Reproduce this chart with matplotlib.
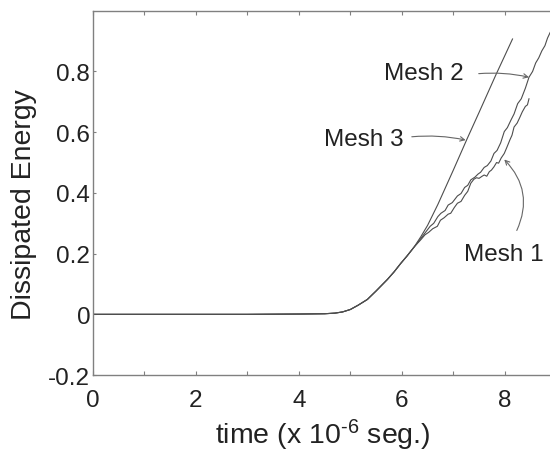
import matplotlib
matplotlib.use('Agg')
import matplotlib.pyplot as plt

plt.rcParams['font.family'] = ['Liberation Sans', 'DejaVu Sans']
plt.rcParams['axes.unicode_minus'] = False
plt.rcParams['mathtext.fontset'] = 'custom'
plt.rcParams['mathtext.rm'] = 'Liberation Sans'
plt.rcParams['mathtext.it'] = 'Liberation Sans:italic'

# common part: all meshes flat, then rise together up to ~6.25
base_t = [0, 3.0, 4.0, 4.5, 4.7, 4.85, 5.0, 5.15, 5.33, 5.5, 5.72, 5.85, 5.98, 6.1, 6.24]
base_e = [0, 0, 0.001, 0.002, 0.004, 0.008, 0.016, 0.03, 0.049, 0.077, 0.115, 0.14, 0.168, 0.192, 0.222]

# Mesh 1 tail (jagged, lowest)
m1_t = [6.37, 6.45, 6.52, 6.60, 6.69, 6.75, 6.82, 6.90, 6.95, 7.02, 7.08, 7.15, 7.22, 7.28, 7.34, 7.40,
        7.45, 7.50, 7.56, 7.60, 7.65, 7.70, 7.74, 7.79, 7.84, 7.88, 7.93, 7.99, 8.04, 8.10, 8.14,
        8.18, 8.24, 8.29, 8.34, 8.40, 8.44, 8.47]
m1_e = [0.246, 0.262, 0.27, 0.282, 0.29, 0.31, 0.318, 0.33, 0.333, 0.352, 0.366, 0.372, 0.392, 0.405, 0.432, 0.445,
        0.45, 0.448, 0.455, 0.459, 0.455, 0.47, 0.475, 0.486, 0.50, 0.498, 0.515, 0.53, 0.55, 0.575, 0.59,
        0.617, 0.63, 0.648, 0.667, 0.685, 0.69, 0.71]

# Mesh 2 tail
m2_t = [6.37, 6.45, 6.55, 6.62, 6.70, 6.76, 6.84, 6.90, 6.98, 7.08, 7.15, 7.22, 7.28, 7.34, 7.42, 7.48,
        7.53, 7.60, 7.66, 7.73, 7.79, 7.85, 7.92, 7.99, 8.05, 8.12, 8.18, 8.25, 8.32, 8.40, 8.47,
        8.54, 8.60, 8.66, 8.72, 8.78, 8.83, 8.88, 8.95]
m2_e = [0.25, 0.268, 0.29, 0.30, 0.322, 0.333, 0.342, 0.36, 0.368, 0.39, 0.398, 0.418, 0.425, 0.443, 0.452, 0.462,
        0.468, 0.484, 0.49, 0.505, 0.53, 0.54, 0.565, 0.602, 0.615, 0.64, 0.66, 0.694, 0.71, 0.745, 0.781,
        0.80, 0.828, 0.845, 0.868, 0.885, 0.91, 0.928, 0.95]

# Mesh 3 tail (smooth, steepest)
m3_t = [6.37, 6.5, 6.7, 7.0, 7.27, 7.5, 7.83, 8.0, 8.15]
m3_e = [0.256, 0.293, 0.362, 0.475, 0.579, 0.665, 0.79, 0.852, 0.907]

line_col = '#4d4d4d'
txt_col = '#222222'
ax_col = '#808080'

fig = plt.figure(figsize=(5.5, 4.52), dpi=100)
ax = fig.add_axes([0.169, 0.168, 0.936, 0.806])

for tt, ee in [(m1_t, m1_e), (m2_t, m2_e), (m3_t, m3_e)]:
    ax.plot(base_t + tt, base_e + ee, color=line_col, lw=0.8)

ax.set_xlim(0, 10)
ax.set_ylim(-0.2, 1.0)
ax.set_xticks(range(0, 11))
ax.set_xticklabels([str(i) if i % 2 == 0 and i < 10 else '' for i in range(0, 11)])
ax.set_yticks([-0.2, 0, 0.2, 0.4, 0.6, 0.8])
ax.set_yticklabels(['-0.2', '0', '0.2', '0.4', '0.6', '0.8'])
ax.tick_params(axis='x', direction='in', length=3, width=0.8, color=ax_col,
               labelsize=17.5, labelcolor=txt_col, pad=10, top=True)
ax.tick_params(axis='y', direction='in', length=2.5, width=0.8, color=ax_col,
               labelsize=17.5, labelcolor=txt_col, pad=2)
for s in ax.spines.values():
    s.set_color(ax_col)
    s.set_linewidth(1.0)

fig.text(323 / 550, 1 - 444 / 452, r'time (x 10$^{\text{-6}}$ seg.)', ha='center', va='baseline',
         fontsize=20.5, color=txt_col)
fig.text(24 / 550, 1 - 205 / 452, 'Dissipated Energy', ha='center', va='center',
         rotation=90, fontsize=20.5, color=txt_col)

arrow = dict(arrowstyle='->', color='#666666', lw=0.8, shrinkA=2, shrinkB=0, mutation_scale=8)
ax.annotate('Mesh 2', xy=(8.47, 0.781), xytext=(6.43, 0.774), ha='center', va='baseline',
            fontsize=17.5, color=txt_col)
ax.annotate('', xy=(8.47, 0.781), xytext=(7.44, 0.792),
            arrowprops=dict(arrow, connectionstyle='arc3,rad=-0.08'))
ax.annotate('Mesh 3', xy=(7.24, 0.574), xytext=(5.26, 0.557), ha='center', va='baseline',
            fontsize=17.5, color=txt_col)
ax.annotate('', xy=(7.24, 0.574), xytext=(6.14, 0.584),
            arrowprops=dict(arrow, connectionstyle='arc3,rad=-0.08'))
ax.annotate('Mesh 1', xy=(7.99, 0.51), xytext=(7.99, 0.18), ha='center', va='baseline',
            fontsize=17.5, color=txt_col)
ax.annotate('', xy=(7.99, 0.51), xytext=(8.21, 0.268),
            arrowprops=dict(arrow, connectionstyle='arc3,rad=0.35'))

fig.savefig('out.png', dpi=100)
